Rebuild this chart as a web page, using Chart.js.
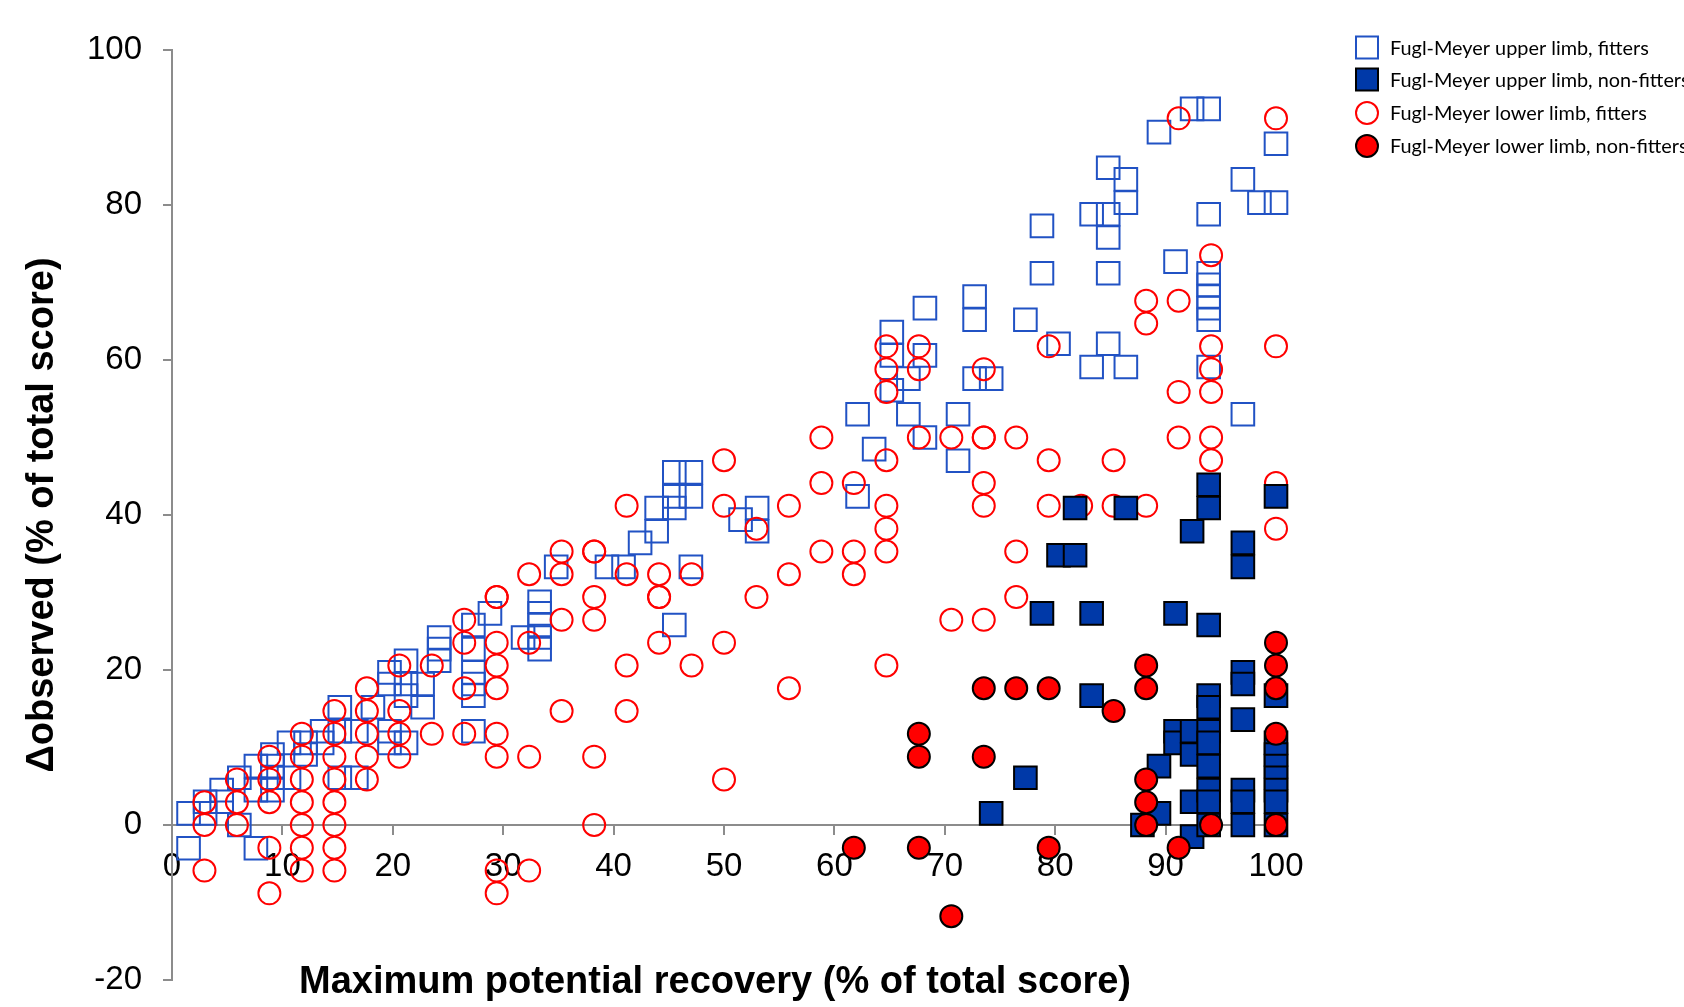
<!DOCTYPE html>
<html><head><meta charset="utf-8">
<script src="https://cdn.jsdelivr.net/npm/chart.js@4/dist/chart.umd.min.js"></script>
<style>html,body{margin:0;padding:0;background:#fff;overflow:hidden}canvas{display:block}</style>
</head><body>
<canvas id="c" width="1684" height="1007"></canvas>
<script>
// ---- data ----
const seriesNames = [
  "Fugl-Meyer upper limb, fitters",
  "Fugl-Meyer upper limb, non-fitters",
  "Fugl-Meyer lower limb, fitters",
  "Fugl-Meyer lower limb, non-fitters"
];
const xTickValues = [0,10,20,30,40,50,60,70,80,90,100];
const yTickValues = [-20,0,20,40,60,80,100];
const xAxisTitle = "Maximum potential recovery (% of total score)";
const yAxisTitle = "\u0394observed (% of total score)";

const upperFitX = [1.5,1.5,3.0,3.0,4.5,4.5,6.1,6.1,7.6,7.6,7.6,9.1,9.1,9.1,9.1,10.6,10.6,12.1,12.1,13.6,13.6,15.2,15.2,15.2,16.7,16.7,18.2,19.7,19.7,19.7,19.7,21.2,21.2,21.2,21.2,22.7,22.7,24.2,24.2,24.2,27.3,27.3,27.3,27.3,27.3,27.3,28.8,31.8,33.3,33.3,33.3,33.3,33.3,34.8,39.4,40.9,42.4,43.9,43.9,45.5,45.5,45.5,47.0,47.0,47.0,45.5,51.5,53.0,53.0,62.1,62.1,63.6,65.2,65.2,65.2,66.7,66.7,68.2,68.2,68.2,71.2,71.2,72.7,72.7,72.7,74.2,77.3,78.8,78.8,80.3,83.3,83.3,84.8,84.8,84.8,84.8,84.8,86.4,86.4,86.4,89.4,90.9,92.4,93.9,93.9,93.9,93.9,93.9,93.9,93.9,93.9,97.0,97.0,98.5,100,100];
const upperFitY = [1.5,-3.0,3.0,1.5,4.5,3.0,6.1,0,7.6,4.5,-3.0,9.1,7.6,6.1,4.5,10.6,6.1,10.6,9.1,12.1,10.6,15.2,12.1,6.1,12.1,6.1,15.2,19.7,18.2,12.1,10.6,21.2,18.2,16.7,10.6,18.2,15.2,24.2,22.7,21.2,25.8,22.7,19.7,18.2,16.7,12.1,27.3,24.2,28.8,27.3,25.8,24.2,22.7,33.3,33.3,33.3,36.4,40.9,37.9,45.5,42.4,40.9,45.5,42.4,33.3,25.8,39.4,40.9,37.9,53.0,42.4,48.5,63.6,60.6,56.1,57.6,53.0,66.7,60.6,50.0,53.0,47.0,68.2,65.2,57.6,57.6,65.2,77.3,71.2,62.1,78.8,59.1,84.8,78.8,75.8,71.2,62.1,83.3,80.3,59.1,89.4,72.7,92.4,92.4,78.8,71.2,69.7,68.2,66.7,65.2,59.1,83.3,53.0,80.3,87.9,80.3];

const upperNonX = [74.2,77.3,78.8,80.3,81.8,81.8,83.3,83.3,86.4,87.9,89.4,89.4,90.9,90.9,90.9,92.4,92.4,92.4,92.4,92.4,93.9,93.9,93.9,93.9,93.9,93.9,93.9,93.9,93.9,93.9,93.9,97.0,97.0,97.0,97.0,97.0,97.0,97.0,97.0,100,100,100,100,100,100,100,100,100];
const upperNonY = [1.5,6.1,27.3,34.8,34.8,40.9,27.3,16.7,40.9,0,1.5,7.6,12.1,10.6,27.3,12.1,9.1,3.0,-1.5,37.9,43.9,40.9,25.8,16.7,15.2,12.1,10.6,7.6,4.5,3.0,0,36.4,33.3,19.7,18.2,13.6,4.5,3.0,0,42.4,16.7,10.6,9.1,7.6,6.1,4.5,3.0,0];

const lowerFitX = [2.94,2.94,2.94,5.88,5.88,5.88,8.82,8.82,8.82,8.82,8.82,11.76,11.76,11.76,11.76,11.76,11.76,11.76,14.71,14.71,14.71,14.71,14.71,14.71,14.71,14.71,17.65,17.65,17.65,17.65,17.65,20.59,20.59,20.59,20.59,23.53,23.53,26.47,26.47,26.47,26.47,29.41,29.41,29.41,29.41,29.41,29.41,29.41,29.41,29.41,32.35,32.35,32.35,32.35,35.29,35.29,35.29,35.29,38.24,38.24,38.24,38.24,38.24,38.24,41.18,41.18,41.18,41.18,44.12,44.12,44.12,44.12,47.06,47.06,50,50,50,50,52.94,52.94,55.88,55.88,55.88,58.82,58.82,58.82,61.76,61.76,61.76,64.71,64.71,64.71,64.71,64.71,64.71,64.71,64.71,67.65,67.65,67.65,70.59,70.59,73.53,73.53,73.53,73.53,73.53,73.53,76.47,76.47,76.47,79.41,79.41,79.41,82.35,85.29,85.29,88.24,88.24,88.24,91.18,91.18,91.18,91.18,94.12,94.12,94.12,94.12,94.12,94.12,100,100,100,100];
const lowerFitY = [-5.88,0,2.94,0,2.94,5.88,-8.82,-2.94,2.94,5.88,8.82,-5.88,-2.94,0,2.94,5.88,8.82,11.76,-5.88,-2.94,0,2.94,5.88,8.82,11.76,14.71,5.88,8.82,11.76,14.71,17.65,8.82,11.76,14.71,20.59,11.76,20.59,11.76,17.65,23.53,26.47,-8.82,-5.88,8.82,11.76,17.65,20.59,23.53,29.41,29.41,-5.88,8.82,23.53,32.35,14.71,26.47,32.35,35.29,0,8.82,26.47,29.41,35.29,35.29,14.71,20.59,32.35,41.18,23.53,29.41,29.41,32.35,20.59,32.35,5.88,23.53,41.18,47.06,29.41,38.24,17.65,32.35,41.18,35.29,44.12,50,32.35,35.29,44.12,20.59,35.29,38.24,41.18,47.06,55.88,58.82,61.76,50,58.82,61.76,26.47,50,26.47,41.18,44.12,50,50,58.82,29.41,35.29,50,41.18,47.06,61.76,41.18,41.18,47.06,41.18,64.71,67.65,50,55.88,67.65,91.18,47.06,50,55.88,58.82,61.76,73.53,38.24,44.12,61.76,91.18];

const lowerNonX = [61.76,67.65,67.65,67.65,70.59,73.53,73.53,76.47,79.41,79.41,85.29,88.24,88.24,88.24,88.24,88.24,91.18,94.12,100,100,100,100,100];
const lowerNonY = [-2.94,11.76,8.82,-2.94,-11.76,17.65,8.82,17.65,17.65,-2.94,14.71,20.59,17.65,5.88,2.94,0,-2.94,0,23.53,20.59,17.65,11.76,0];

// ---- styles ----
const OPEN_BLUE = '#2152c4';
const FILL_BLUE = '#0039a8';
const RED = '#ff0000';
const AXIS_GREY = '#8c8c8c';

function pts(xs, ys){ return xs.map((x,i)=>({x:x, y:ys[i]})); }

const legendStyles = [
  {shape:'rect', fill:null, stroke:OPEN_BLUE},
  {shape:'rect', fill:FILL_BLUE, stroke:'#000'},
  {shape:'circle', fill:null, stroke:RED},
  {shape:'circle', fill:RED, stroke:'#000'}
];

const overlayPlugin = {
  id: 'overlay',
  afterDraw(chart){
    const ctx = chart.ctx;
    const ca = chart.chartArea;
    ctx.save();
    // x axis title
    ctx.fillStyle = '#000';
    ctx.font = 'bold 38px "Liberation Sans", Arial, sans-serif';
    ctx.textAlign = 'center';
    ctx.textBaseline = 'middle';
    ctx.fillText(xAxisTitle, (ca.left + ca.right)/2 - 9, 983);
    // legend
    const rows = [47.5, 79.5, 113, 146];
    ctx.font = '18px Lato, "Open Sans", sans-serif';
    const w = ctx.measureText(seriesNames[0]).width;
    const fs = 18 * 259 / w;
    ctx.font = fs.toFixed(2) + 'px Lato, "Open Sans", sans-serif';
    ctx.textAlign = 'left';
    for (let i = 0; i < 4; i++){
      const st = legendStyles[i];
      const cx = 1367, cy = rows[i];
      ctx.beginPath();
      if (st.shape === 'rect') ctx.rect(cx - 11, cy - 11, 22, 22);
      else ctx.arc(cx, cy, 11, 0, Math.PI*2);
      if (st.fill){ ctx.fillStyle = st.fill; ctx.fill(); }
      ctx.lineWidth = 2; ctx.strokeStyle = st.stroke; ctx.stroke();
      ctx.fillStyle = '#000';
      ctx.fillText(seriesNames[i], 1390, cy + 1);
    }
    ctx.restore();
  }
};

new Chart(document.getElementById('c'), {
  type: 'scatter',
  data: {
    datasets: [
      {label: seriesNames[3], data: pts(lowerNonX, lowerNonY), pointStyle:'circle', pointRadius:11, backgroundColor:RED, borderColor:'#000', borderWidth:2, order:0, clip:false},
      {label: seriesNames[1], data: pts(upperNonX, upperNonY), pointStyle:'rect', pointRadius:16, backgroundColor:FILL_BLUE, borderColor:'#000', borderWidth:2, order:1, clip:false},
      {label: seriesNames[2], data: pts(lowerFitX, lowerFitY), pointStyle:'circle', pointRadius:11, backgroundColor:'rgba(0,0,0,0)', borderColor:RED, borderWidth:2, order:2, clip:false},
      {label: seriesNames[0], data: pts(upperFitX, upperFitY), pointStyle:'rect', pointRadius:16, backgroundColor:'rgba(0,0,0,0)', borderColor:OPEN_BLUE, borderWidth:2, order:3, clip:false}
    ]
  },
  options: {
    responsive: false,
    devicePixelRatio: 1,
    animation: false,
    events: [],
    layout: {padding: {top: 50, right: 408, bottom: 27, left: 0}},
    plugins: {legend: {display: false}, tooltip: {enabled: false}, title: {display: false}},
    scales: {
      x: {
        type: 'linear', position: {y: 0}, min: 0, max: 100,
        afterBuildTicks: s => { s.ticks = xTickValues.map(v => ({value: v})); },
        grid: {drawOnChartArea: false, drawTicks: true, tickLength: 9, color: AXIS_GREY, lineWidth: 2},
        border: {display: true, color: AXIS_GREY, width: 2},
        ticks: {font: {family: '"Liberation Sans", Arial, sans-serif', size: 33}, color: '#000', padding: 13, maxRotation: 0, autoSkip: false}
      },
      y: {
        type: 'linear', position: 'left', min: -20, max: 100,
        afterBuildTicks: s => { s.ticks = yTickValues.map(v => ({value: v})); },
        afterFit: s => { s.width = 172; s.paddingTop = 10; s.paddingBottom = 10; },
        grid: {drawOnChartArea: false, drawTicks: true, tickLength: 9, color: AXIS_GREY, lineWidth: 2},
        border: {display: true, color: AXIS_GREY, width: 2},
        ticks: {font: {family: '"Liberation Sans", Arial, sans-serif', size: 33}, color: '#000', padding: 21, autoSkip: false},
        title: {display: true, text: yAxisTitle, color: '#000', font: {family: '"Liberation Sans", Arial, sans-serif', size: 38, weight: 'bold'}, padding: {top: 20, bottom: 0}}
      }
    }
  },
  plugins: [overlayPlugin]
});
</script>
</body></html>
